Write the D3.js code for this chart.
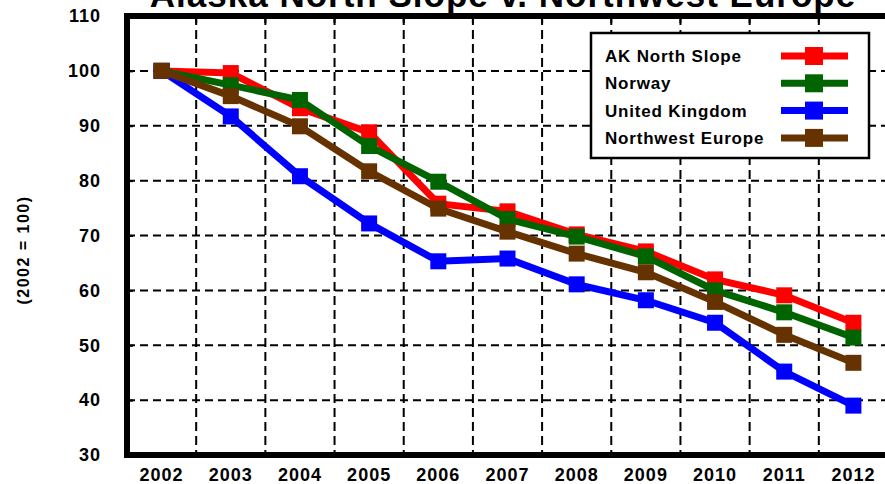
<!DOCTYPE html>
<html><head><meta charset="utf-8">
<script src="https://cdn.jsdelivr.net/npm/d3@7"></script>
<style>
html,body{margin:0;padding:0;background:#fff;}
svg{display:block;font-family:"Liberation Sans",Arial,sans-serif;font-weight:bold;}
</style></head>
<body>
<svg id="chart" width="885" height="484"></svg>
<script>
const years = ["2002","2003","2004","2005","2006","2007","2008","2009","2010","2011","2012"];
const akNorthSlope = [100, 99.6, 93.2, 88.8, 75.8, 74.4, 70.2, 67.1, 62.0, 59.1, 54.1];
const norway       = [100, 97.4, 94.7, 86.3, 79.8, 73.0, 69.8, 66.2, 60.0, 56.0, 51.4];
const unitedKingdom= [100, 91.7, 80.8, 72.2, 65.3, 65.8, 61.1, 58.2, 54.1, 45.2, 39.0];
const nwEurope     = [100, 95.4, 89.9, 81.7, 74.9, 70.7, 66.7, 63.3, 57.9, 51.9, 46.8];
const seriesNames  = ["AK North Slope","Norway","United Kingdom","Northwest Europe"];
const seriesColors = ["#ff0000","#006400","#0000ff","#663300"];
const yTicks = [30,40,50,60,70,80,90,100,110];
const titleText = "Alaska North Slope v. Northwest Europe";
const yLabel = "(2002 = 100)";

const seriesValues = [akNorthSlope, norway, unitedKingdom, nwEurope];

const svg = d3.select("#chart");
const L = 127, T = 16, B = 455, R = 888;

const x = d3.scaleBand().domain(years).range([L, R]).paddingInner(0).paddingOuter(0);
const y = d3.scaleLinear().domain([30,110]).range([B, T]);

// grid
const grid = svg.append("g");
grid.selectAll("line.h").data(yTicks.filter(v => v > 30 && v < 110)).join("line")
  .attr("x1", L).attr("x2", R).attr("y1", d => y(d)).attr("y2", d => y(d))
  .attr("stroke", "#000").attr("stroke-width", 2).attr("stroke-dasharray", "8,5");
grid.selectAll("line.v").data(years.slice(1)).join("line")
  .attr("x1", d => x(d)).attr("x2", d => x(d)).attr("y1", T).attr("y2", B)
  .attr("stroke", "#000").attr("stroke-width", 2).attr("stroke-dasharray", "9,5");

// axes
const yAxis = d3.axisLeft(y).tickValues(yTicks).tickSize(-6).tickPadding(26);
const gy = svg.append("g").attr("transform", `translate(${L},0)`).call(yAxis);
gy.select(".domain").remove();
gy.selectAll(".tick line").attr("stroke", "#000").attr("stroke-width", 2);
gy.selectAll(".tick text").attr("font-size", 18).attr("font-weight", "bold")
  .attr("letter-spacing", 1).attr("fill", "#000")
  .attr("font-family", "Liberation Sans, Arial, sans-serif");

const xAxis = d3.axisBottom(x).tickSize(0).tickPadding(13);
const gx = svg.append("g").attr("transform", `translate(0,${B})`).call(xAxis);
gx.select(".domain").remove();
gx.selectAll(".tick text").attr("font-size", 18).attr("font-weight", "bold")
  .attr("letter-spacing", 1).attr("fill", "#000")
  .attr("font-family", "Liberation Sans, Arial, sans-serif");

// top ticks
svg.append("g").selectAll("line").data(years.slice(1)).join("line")
  .attr("x1", d => x(d)).attr("x2", d => x(d)).attr("y1", T).attr("y2", T + 7)
  .attr("stroke", "#000").attr("stroke-width", 2);

// frame
svg.append("rect").attr("x", L).attr("y", T).attr("width", R - L).attr("height", B - T)
  .attr("fill", "none").attr("stroke", "#000").attr("stroke-width", 6);

// series
const cx = d => x(d) + x.bandwidth() / 2;
const line = d3.line().x((d, i) => cx(years[i])).y(d => y(d));
seriesValues.forEach((vals, si) => {
  const g = svg.append("g");
  g.append("path").datum(vals).attr("d", line).attr("fill", "none")
    .attr("stroke", seriesColors[si]).attr("stroke-width", 7).attr("stroke-linejoin", "miter");
  g.selectAll("rect").data(vals).join("rect")
    .attr("x", (d, i) => cx(years[i]) - 8).attr("y", d => y(d) - 8)
    .attr("width", 16).attr("height", 16).attr("fill", seriesColors[si]);
});

// legend
const lg = svg.append("g");
lg.append("rect").attr("x", 591).attr("y", 33).attr("width", 278).attr("height", 125)
  .attr("fill", "#fff").attr("stroke", "#000").attr("stroke-width", 2.5);
seriesNames.forEach((n, i) => {
  const yy = 56 + i * 27.3;
  lg.append("text").attr("x", 605).attr("y", yy + 6).attr("font-size", 17)
    .attr("letter-spacing", 0.8).text(n);
  lg.append("line").attr("x1", 781).attr("x2", 848).attr("y1", yy).attr("y2", yy)
    .attr("stroke", seriesColors[i]).attr("stroke-width", 7);
  lg.append("rect").attr("x", 805).attr("y", yy - 9).attr("width", 18).attr("height", 18)
    .attr("fill", seriesColors[i]);
});

// title
svg.append("text").attr("x", 503).attr("y", 7).attr("text-anchor", "middle")
  .attr("font-size", 35).attr("letter-spacing", 1).text(titleText);

// y label
svg.append("text").attr("transform", "translate(29,250) rotate(-90)")
  .attr("text-anchor", "middle").attr("font-size", 16).attr("letter-spacing", 1.5)
  .text(yLabel);
</script>
</body></html>
